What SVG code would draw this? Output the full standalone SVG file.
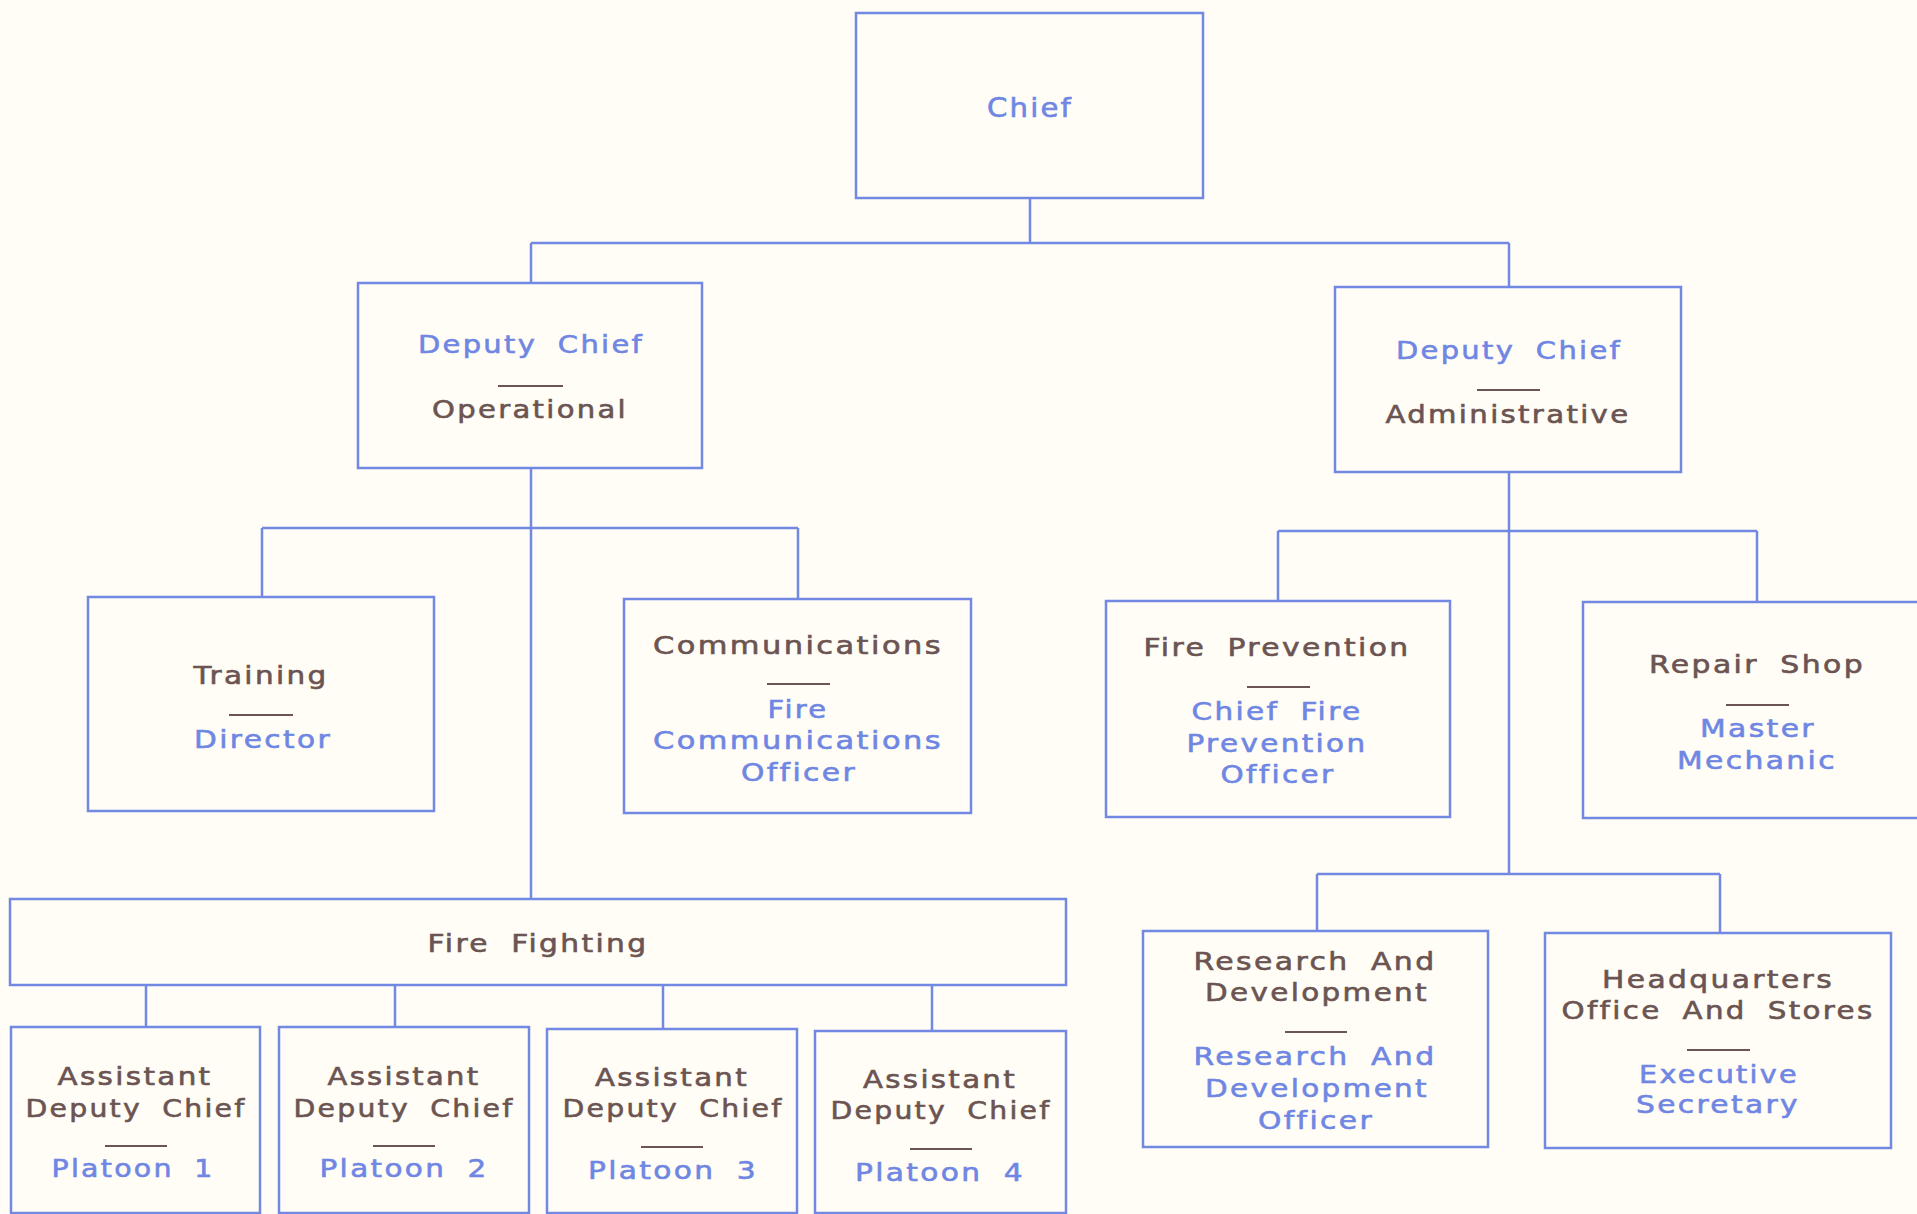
<svg xmlns="http://www.w3.org/2000/svg" width="1917" height="1214" viewBox="0 0 1917 1214">
<style>
.bg{fill:#fffdf6}
.box{fill:none;stroke:#7189e2;stroke-width:2.5}
.con{fill:none;stroke:#7189e2;stroke-width:2.5}
.div{stroke:#6b5452;stroke-width:2.2}
text{font-family:"DejaVu Sans","Liberation Sans",sans-serif;font-size:25px;text-anchor:middle;word-spacing:8px;letter-spacing:2px;font-variant-ligatures:none;stroke-width:0.6px}
.b{fill:#6f87e3;stroke:#6f87e3}
.r{fill:#6b5452;stroke:#6b5452}
.big{font-size:27px}
</style>
<rect class="bg" x="0" y="0" width="1917" height="1214"/>
<g id="connectors">
<path class="con" d="M1030,198 V243 M531,243 H1509 M531,243 V283 M1509,243 V287"/>
<path class="con" d="M531,468 V899 M262,528 H798 M262,528 V597 M798,528 V599"/>
<path class="con" d="M1509,472 V874 M1278,531 H1757 M1278,531 V601 M1757,531 V602"/>
<path class="con" d="M1317,874 H1720 M1317,874 V931 M1720,874 V933"/>
<path class="con" d="M146,985 V1027 M395,985 V1027 M663,985 V1029 M932,985 V1031"/>
</g>
<g id="chief">
<rect class="box" x="856" y="13" width="347" height="185"/>
<text class="b big" x="1030" y="117" textLength="86" lengthAdjust="spacingAndGlyphs">Chief</text>
</g>
<g id="deputy-operational">
<rect class="box" x="358" y="283" width="344" height="185"/>
<text class="b" x="531" y="353" textLength="226" lengthAdjust="spacingAndGlyphs">Deputy Chief</text>
<line class="div" x1="498" y1="386" x2="563" y2="386"/>
<text class="r" x="530" y="418" textLength="196" lengthAdjust="spacingAndGlyphs">Operational</text>
</g>
<g id="deputy-administrative">
<rect class="box" x="1335" y="287" width="346" height="185"/>
<text class="b" x="1509" y="359" textLength="226" lengthAdjust="spacingAndGlyphs">Deputy Chief</text>
<line class="div" x1="1477" y1="390" x2="1540" y2="390"/>
<text class="r" x="1508" y="423" textLength="245" lengthAdjust="spacingAndGlyphs">Administrative</text>
</g>
<g id="training">
<rect class="box" x="88" y="597" width="346" height="214"/>
<text class="r" x="261" y="684" textLength="135" lengthAdjust="spacingAndGlyphs">Training</text>
<line class="div" x1="229" y1="715" x2="293" y2="715"/>
<text class="b" x="263" y="748" textLength="138" lengthAdjust="spacingAndGlyphs">Director</text>
</g>
<g id="communications">
<rect class="box" x="624" y="599" width="347" height="214"/>
<text class="r" x="798" y="654" textLength="290" lengthAdjust="spacingAndGlyphs">Communications</text>
<line class="div" x1="767" y1="684" x2="830" y2="684"/>
<text class="b" x="798" y="718" textLength="61" lengthAdjust="spacingAndGlyphs">Fire</text>
<text class="b" x="798" y="749" textLength="290" lengthAdjust="spacingAndGlyphs">Communications</text>
<text class="b" x="799" y="781" textLength="116" lengthAdjust="spacingAndGlyphs">Officer</text>
</g>
<g id="fire-prevention">
<rect class="box" x="1106" y="601" width="344" height="216"/>
<text class="r" x="1277" y="656" textLength="267" lengthAdjust="spacingAndGlyphs">Fire Prevention</text>
<line class="div" x1="1247" y1="687" x2="1310" y2="687"/>
<text class="b" x="1277" y="720" textLength="171" lengthAdjust="spacingAndGlyphs">Chief Fire</text>
<text class="b" x="1277" y="752" textLength="181" lengthAdjust="spacingAndGlyphs">Prevention</text>
<text class="b" x="1278" y="783" textLength="115" lengthAdjust="spacingAndGlyphs">Officer</text>
</g>
<g id="repair-shop">
<rect class="box" x="1583" y="602" width="350" height="216"/>
<text class="r" x="1757" y="673" textLength="216" lengthAdjust="spacingAndGlyphs">Repair Shop</text>
<line class="div" x1="1726" y1="705" x2="1789" y2="705"/>
<text class="b" x="1758" y="737" textLength="116" lengthAdjust="spacingAndGlyphs">Master</text>
<text class="b" x="1757" y="769" textLength="160" lengthAdjust="spacingAndGlyphs">Mechanic</text>
</g>
<g id="fire-fighting">
<rect class="box" x="10" y="899" width="1056" height="86"/>
<text class="r" x="538" y="952" textLength="221" lengthAdjust="spacingAndGlyphs">Fire Fighting</text>
</g>
<g id="platoon-1">
<rect class="box" x="11" y="1027" width="249" height="186"/>
<text class="r" x="135" y="1085" textLength="155" lengthAdjust="spacingAndGlyphs">Assistant</text>
<text class="r" x="136" y="1117" textLength="221" lengthAdjust="spacingAndGlyphs">Deputy Chief</text>
<line class="div" x1="105" y1="1146" x2="167" y2="1146"/>
<text class="b" x="133" y="1177" textLength="163" lengthAdjust="spacingAndGlyphs">Platoon 1</text>
</g>
<g id="platoon-2">
<rect class="box" x="279" y="1027" width="250" height="186"/>
<text class="r" x="404" y="1085" textLength="153" lengthAdjust="spacingAndGlyphs">Assistant</text>
<text class="r" x="404" y="1117" textLength="221" lengthAdjust="spacingAndGlyphs">Deputy Chief</text>
<line class="div" x1="373" y1="1146" x2="435" y2="1146"/>
<text class="b" x="404" y="1177" textLength="169" lengthAdjust="spacingAndGlyphs">Platoon 2</text>
</g>
<g id="platoon-3">
<rect class="box" x="547" y="1029" width="250" height="184"/>
<text class="r" x="672" y="1086" textLength="154" lengthAdjust="spacingAndGlyphs">Assistant</text>
<text class="r" x="673" y="1117" textLength="221" lengthAdjust="spacingAndGlyphs">Deputy Chief</text>
<line class="div" x1="641" y1="1147" x2="703" y2="1147"/>
<text class="b" x="673" y="1179" textLength="170" lengthAdjust="spacingAndGlyphs">Platoon 3</text>
</g>
<g id="platoon-4">
<rect class="box" x="815" y="1031" width="251" height="182"/>
<text class="r" x="940" y="1088" textLength="154" lengthAdjust="spacingAndGlyphs">Assistant</text>
<text class="r" x="941" y="1119" textLength="221" lengthAdjust="spacingAndGlyphs">Deputy Chief</text>
<line class="div" x1="910" y1="1149" x2="972" y2="1149"/>
<text class="b" x="940" y="1181" textLength="170" lengthAdjust="spacingAndGlyphs">Platoon 4</text>
</g>
<g id="research-development">
<rect class="box" x="1143" y="931" width="345" height="216"/>
<text class="r" x="1315" y="970" textLength="243" lengthAdjust="spacingAndGlyphs">Research And</text>
<text class="r" x="1317" y="1001" textLength="224" lengthAdjust="spacingAndGlyphs">Development</text>
<line class="div" x1="1285" y1="1032" x2="1347" y2="1032"/>
<text class="b" x="1315" y="1065" textLength="243" lengthAdjust="spacingAndGlyphs">Research And</text>
<text class="b" x="1317" y="1097" textLength="224" lengthAdjust="spacingAndGlyphs">Development</text>
<text class="b" x="1316" y="1129" textLength="116" lengthAdjust="spacingAndGlyphs">Officer</text>
</g>
<g id="headquarters">
<rect class="box" x="1545" y="933" width="346" height="215"/>
<text class="r" x="1718" y="988" textLength="232" lengthAdjust="spacingAndGlyphs">Headquarters</text>
<text class="r" x="1718" y="1019" textLength="313" lengthAdjust="spacingAndGlyphs">Office And Stores</text>
<line class="div" x1="1687" y1="1050" x2="1750" y2="1050"/>
<text class="b" x="1719" y="1083" textLength="160" lengthAdjust="spacingAndGlyphs">Executive</text>
<text class="b" x="1718" y="1113" textLength="164" lengthAdjust="spacingAndGlyphs">Secretary</text>
</g>
</svg>
